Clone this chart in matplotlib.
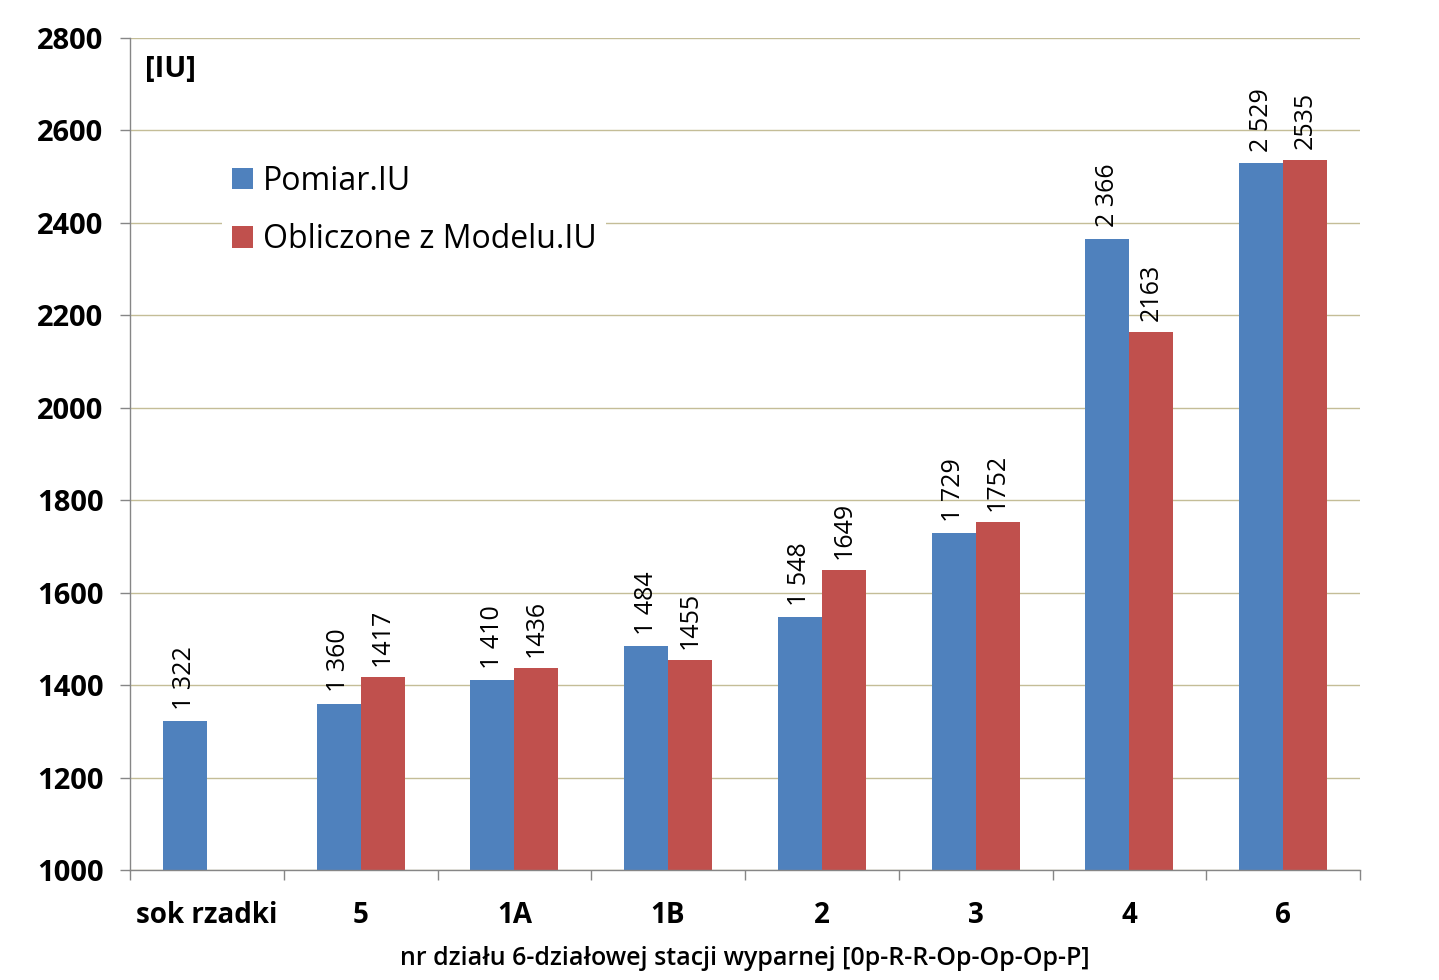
import matplotlib
matplotlib.use("Agg")
import matplotlib.pyplot as plt
import numpy as np

categories = ["sok rzadki", "5", "1A", "1B", "2", "3", "4", "6"]
pomiar = [1322, 1360, 1410, 1484, 1548, 1729, 2366, 2529]
model = [np.nan, 1417, 1436, 1455, 1649, 1752, 2163, 2535]
yticks = [1000, 1200, 1400, 1600, 1800, 2000, 2200, 2400, 2600, 2800]

FONT = "Open Sans"
BLUE = "#4F81BD"
RED = "#C0504D"
GRID = "#C4BD97"
AXC = "#868686"

plt.rcParams["font.family"] = [FONT, "DejaVu Sans"]

fig = plt.figure(figsize=(14.39, 9.80), dpi=100)
ax = fig.add_axes([130/1439, 110/980, 1230/1439, 832/980])

x = np.arange(len(categories))
w = 0.286
ax.bar(x - w/2, pomiar, w, color=BLUE, label="Pomiar.IU", zorder=3)
ax.bar(x + w/2, model, w, color=RED, label="Obliczone z Modelu.IU", zorder=3)

for xi, v in zip(x - w/2, pomiar):
    s = f"{v:,}".replace(",", " ")
    ax.annotate(s, (xi, v), xytext=(0, 8), textcoords="offset points",
                rotation=90, ha="center", va="bottom", fontsize=18)
for xi, v in zip(x + w/2, model):
    if np.isnan(v):
        continue
    ax.annotate(f"{v:.0f}", (xi, v), xytext=(0, 8), textcoords="offset points",
                rotation=90, ha="center", va="bottom", fontsize=18)

ax.set_ylim(1000, 2800)
ax.set_xlim(-0.5, len(categories) - 0.5)
ax.set_yticks(yticks)
ax.set_yticklabels([str(t) for t in yticks], fontsize=21, fontweight="bold")
ax.set_xticks(x)
ax.set_xticklabels(categories, fontsize=20, fontweight="bold")
ax.set_xticks(np.arange(-0.5, len(categories)), minor=True)
ax.tick_params(axis="x", which="major", length=0, pad=22)
ax.tick_params(axis="x", which="minor", length=7, color=AXC, width=1)
ax.tick_params(axis="y", length=7, color=AXC, width=1, pad=12)

ax.grid(axis="y", color=GRID, linewidth=1, zorder=0)
for sp in ["top", "right"]:
    ax.spines[sp].set_visible(False)
for sp in ["left", "bottom"]:
    ax.spines[sp].set_color(AXC)
    ax.spines[sp].set_linewidth(1)
    ax.spines[sp].set_zorder(4)

ax.set_xlabel("nr działu 6-działowej stacji wyparnej [0p-R-R-Op-Op-Op-P]",
              fontsize=18, fontweight="semibold", labelpad=12)

ax.text(145/1439, 1 - 70/980, "[IU]", transform=fig.transFigure, fontsize=21,
        fontweight="bold", ha="left", va="center")

leg = ax.legend(loc="upper left", bbox_to_anchor=(222/1439, 1 - 155/980),
                bbox_transform=fig.transFigure, fontsize=23, frameon=True,
                fancybox=False, edgecolor="none", facecolor="white",
                framealpha=1, handlelength=0.67, handleheight=0.67,
                handletextpad=0.3, labelspacing=0.8, borderpad=0.3,
                borderaxespad=0)
leg.set_zorder(5)

fig.savefig("out.png", dpi=100)
